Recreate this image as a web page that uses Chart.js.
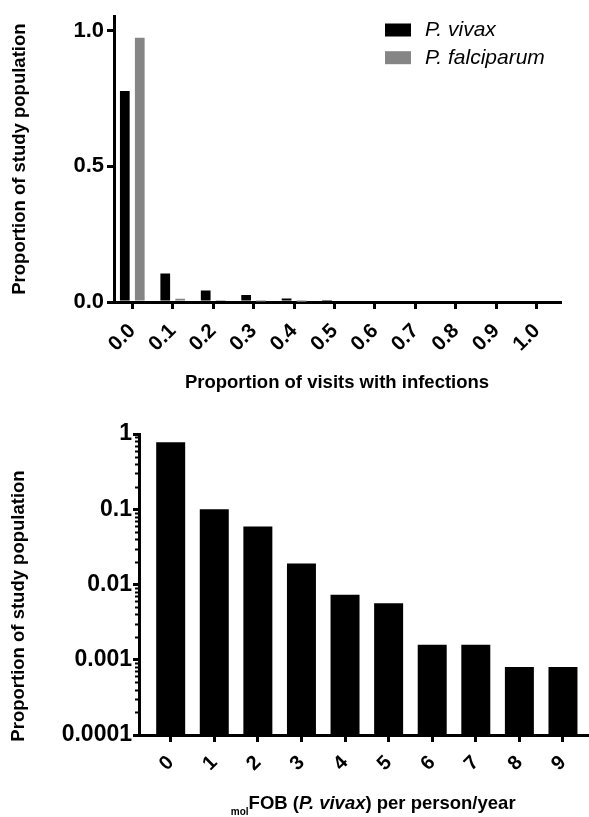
<!DOCTYPE html>
<html>
<head>
<meta charset="utf-8">
<script src="https://cdn.jsdelivr.net/npm/chart.js@4.4.1/dist/chart.umd.min.js"></script>
<style>
  html, body { margin: 0; padding: 0; background: #fff; }
  .panel { position: absolute; left: 0; width: 589px; }
</style>
</head>
<body>
<div class="panel" style="top:0;height:400px"><canvas id="visits"></canvas></div>
<div class="panel" style="top:400px;height:417px"><canvas id="fob"></canvas></div>
<script>
const FONT = "'Liberation Sans', Arial, sans-serif";

// top panel: proportion of visits with infections
const visitProportion = [0, 0.1, 0.2, 0.3, 0.4, 0.5, 0.6, 0.7, 0.8, 0.9, 1.0];
const visitLabels = ['0.0', '0.1', '0.2', '0.3', '0.4', '0.5', '0.6', '0.7', '0.8', '0.9', '1.0'];
const vivaxShare = [0.777, 0.105, 0.042, 0.026, 0.013, 0.002, 0, 0, 0, 0, 0];
const falciparumShare = [0.973, 0.012, 0.004, 0.002, 0.001, 0, 0, 0, 0, 0, 0];
const topYTicks = [0, 0.5, 1];
const topYLabels = ['0.0', '0.5', '1.0'];

// bottom panel: molFOB per person/year (log scale)
const fobCounts = [0, 1, 2, 3, 4, 5, 6, 7, 8, 9];
const fobLabels = ['0', '1', '2', '3', '4', '5', '6', '7', '8', '9'];
const fobShare = [0.775, 0.1, 0.0588, 0.019, 0.0073, 0.00564, 0.00158, 0.00158, 0.0008, 0.0008];
const bottomYTicks = [0.0001, 0.001, 0.01, 0.1, 1];
const bottomYLabels = ['0.0001', '0.001', '0.01', '0.1', '1'];

const axisGrid = (len) => ({
  display: true, drawOnChartArea: false, drawTicks: true,
  tickLength: len, color: '#000', lineWidth: 3
});
const axisBorder = { display: true, color: '#000', width: 3 };
const tickFont = (size) => ({ family: FONT, size: size, weight: 'bold' });
const Y_TITLE = 'Proportion of study population';

// legend in the upper right corner, like the original figure
const cornerLegend = {
  id: 'cornerLegend',
  afterDraw(chart) {
    const ctx = chart.ctx;
    ctx.save();
    chart.data.datasets.forEach((ds, i) => {
      const y = 30 + i * 27.7;
      ctx.fillStyle = ds.backgroundColor;
      ctx.fillRect(385, y - 6.5, 26, 13);
      ctx.fillStyle = '#000';
      ctx.font = 'italic 21px ' + FONT;
      ctx.textBaseline = 'middle';
      ctx.textAlign = 'left';
      ctx.fillText(ds.label, 425, y);
    });
    ctx.restore();
  }
};

new Chart(document.getElementById('visits'), {
  type: 'bar',
  data: {
    datasets: [
      {
        label: 'P. vivax',
        data: visitProportion.map((x, i) => ({ x: x, y: vivaxShare[i] })),
        backgroundColor: '#000',
        categoryPercentage: 0.74,
        barPercentage: 0.65
      },
      {
        label: 'P. falciparum',
        data: visitProportion.map((x, i) => ({ x: x, y: falciparumShare[i] })),
        backgroundColor: '#858585',
        categoryPercentage: 0.74,
        barPercentage: 0.65
      }
    ]
  },
  options: {
    responsive: true,
    maintainAspectRatio: false,
    animation: false,
    layout: { padding: { top: 6, right: 29, left: 0, bottom: 0 } },
    plugins: { legend: { display: false }, tooltip: { enabled: false } },
    scales: {
      x: {
        type: 'linear',
        min: -0.0452,
        max: 1.0574,
        offset: false,
        grid: { ...axisGrid(7), offset: false },
        border: axisBorder,
        afterBuildTicks: (s) => { s.ticks = visitProportion.map(v => ({ value: v })); },
        afterFit: (s) => { s.height = 98; },
        ticks: {
          autoSkip: false, maxRotation: 45, minRotation: 45, padding: 10,
          color: '#000', font: tickFont(20.5),
          callback: (v, i) => visitLabels[i]
        },
        title: {
          display: true, text: 'Proportion of visits with infections', color: '#000',
          font: { family: FONT, size: 18.5, weight: 'bold' }, padding: { top: 0, bottom: 5.5 }
        }
      },
      y: {
        min: 0,
        max: 1.0525,
        grid: axisGrid(7),
        border: axisBorder,
        afterBuildTicks: (s) => { s.ticks = topYTicks.map(v => ({ value: v })); },
        afterFit: (s) => { s.width = 114; },
        ticks: { color: '#000', font: tickFont(22), padding: 3, callback: (v, i) => topYLabels[i] },
        title: {
          display: true, text: Y_TITLE, color: '#000',
          font: { family: FONT, size: 18.5, weight: 'bold' }, padding: { top: 9, bottom: 0 }
        }
      }
    }
  },
  plugins: [cornerLegend]
});

// short minor ticks on the log axis
const minorTicks = {
  id: 'minorTicks',
  afterDraw(chart) {
    const y = chart.scales.y;
    const ctx = chart.ctx;
    ctx.save();
    ctx.strokeStyle = '#000';
    ctx.lineWidth = 2;
    for (let d = 0; d < bottomYTicks.length - 1; d++) {
      for (let k = 2; k <= 9; k++) {
        const py = Math.round(y.getPixelForValue(bottomYTicks[d] * k)) + 0.5;
        ctx.beginPath();
        ctx.moveTo(y.right - 4, py);
        ctx.lineTo(y.right, py);
        ctx.stroke();
      }
    }
    ctx.restore();
  }
};

// axis titles of the lower panel: subscript "mol", italic species name,
// and the y title sits a bit lower than the plot centre in the original
const fobTitles = {
  id: 'fobTitles',
  afterDraw(chart) {
    const ctx = chart.ctx;
    const area = chart.chartArea;
    const parts = [
      { t: 'mol', f: 'bold 10px ' + FONT, dy: 6 },
      { t: 'FOB (', f: 'bold 18.5px ' + FONT, dy: 0 },
      { t: 'P. vivax', f: 'italic bold 18.5px ' + FONT, dy: 0 },
      { t: ') per person/year', f: 'bold 18.5px ' + FONT, dy: 0 }
    ];
    ctx.save();
    ctx.fillStyle = '#000';
    ctx.textBaseline = 'alphabetic';
    ctx.textAlign = 'left';
    let total = 0;
    parts.forEach(p => { ctx.font = p.f; p.w = ctx.measureText(p.t).width; total += p.w; });
    let x = (area.left + area.right) / 2 + 10 - total / 2;
    parts.forEach(p => { ctx.font = p.f; ctx.fillText(p.t, x, 409 + p.dy); x += p.w; });

    ctx.translate(18.5, 206);
    ctx.rotate(-Math.PI / 2);
    ctx.font = 'bold 18.5px ' + FONT;
    ctx.textAlign = 'center';
    ctx.textBaseline = 'middle';
    ctx.fillText(Y_TITLE, 0, 0);
    ctx.restore();
  }
};

new Chart(document.getElementById('fob'), {
  type: 'bar',
  data: {
    datasets: [{
      label: 'molFOB',
      data: fobCounts.map((x, i) => ({ x: x, y: fobShare[i] })),
      backgroundColor: '#000',
      categoryPercentage: 0.665,
      barPercentage: 1
    }]
  },
  options: {
    responsive: true,
    maintainAspectRatio: false,
    animation: false,
    layout: { padding: { top: 34, right: 1, left: 0, bottom: 0 } },
    plugins: { legend: { display: false }, tooltip: { enabled: false } },
    scales: {
      x: {
        type: 'linear',
        min: -0.727,
        max: 9.56,
        offset: false,
        grid: { ...axisGrid(7), offset: false },
        border: axisBorder,
        afterBuildTicks: (s) => { s.ticks = fobCounts.map(v => ({ value: v })); },
        afterFit: (s) => { s.height = 82; },
        ticks: {
          autoSkip: false, maxRotation: 45, minRotation: 45, padding: 9,
          color: '#000', font: tickFont(20),
          callback: (v, i) => fobLabels[i]
        }
      },
      y: {
        type: 'logarithmic',
        min: 0.0001,
        max: 1,
        grid: axisGrid(6),
        border: axisBorder,
        afterBuildTicks: (s) => { s.ticks = bottomYTicks.map(v => ({ value: v })); },
        afterFit: (s) => { s.width = 139; },
        ticks: { color: '#000', font: tickFont(23), padding: 1, callback: (v, i) => bottomYLabels[i] }
      }
    }
  },
  plugins: [minorTicks, fobTitles]
});
</script>
</body>
</html>
